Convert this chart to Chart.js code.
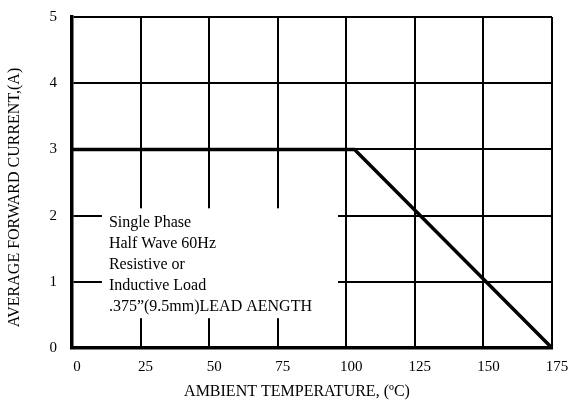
<!DOCTYPE html>
<html>
<head>
<meta charset="utf-8">
<script src="https://cdn.jsdelivr.net/npm/chart.js@4.4.0/dist/chart.umd.min.js"></script>
<style>
  html, body { margin:0; padding:0; background:#fff; }
  #wrap { width:573px; height:412px; }
</style>
</head>
<body>
<div id="wrap"><canvas id="derating"></canvas></div>
<script>
// curve points
var temps = [0, 103, 175];
var amps = [3, 3, 0];
var xTicks = [0, 25, 50, 75, 100, 125, 150, 175];
var yTicks = [0, 1, 2, 3, 4, 5];
var xTitle = 'AMBIENT TEMPERATURE, (\u00baC)';
var yTitle = 'AVERAGE FORWARD CURRENT,(A)';
var noteLines = ['Single Phase', 'Half Wave 60Hz', 'Resistive or', 'Inductive Load', '.375\u201d(9.5mm)LEAD AENGTH'];
// note box corners in data units
var noteBox = { x1: 10.9, x2: 97, y1: 2.11, y2: 0.45 };

var serif = 'Liberation Serif';

// white note box + axis titles
var notePlugin = {
    id: 'note',
    afterDatasetsDraw: function(chart) {
        var ctx = chart.ctx, xs = chart.scales.x, ys = chart.scales.y, a = chart.chartArea;
        var l = xs.getPixelForValue(noteBox.x1), r = xs.getPixelForValue(noteBox.x2);
        var t = ys.getPixelForValue(noteBox.y1), b = ys.getPixelForValue(noteBox.y2);
        ctx.save();
        ctx.fillStyle = '#fff';
        ctx.fillRect(l, t, r - l, b - t);
        ctx.fillStyle = '#000';
        ctx.font = '16px "' + serif + '"';
        ctx.textBaseline = 'middle';
        noteLines.forEach(function(s, i) {
            ctx.fillText(s, l + 7, t + 14 + i * 21);
        });

        ctx.textAlign = 'center';
        ctx.fillText(xTitle, (a.left + a.right) / 2 - 15, 392);
        ctx.translate(15, (a.top + a.bottom) / 2 + 15);
        ctx.rotate(-Math.PI / 2);
        ctx.fillText(yTitle, 0, 0);
        ctx.restore();
    }
};

new Chart(document.getElementById('derating'), {
    type: 'line',
    data: {
        datasets: [{
            data: temps.map(function(t, i) { return { x: t, y: amps[i] }; }),
            borderColor: '#000',
            borderWidth: 3.5,
            pointRadius: 0,
            tension: 0
        }]
    },
    options: {
        responsive: true,
        maintainAspectRatio: false,
        animation: false,
        layout: { padding: { left: 0, right: 21, top: 17, bottom: 0 } },
        plugins: { legend: { display: false }, tooltip: { enabled: false } },
        scales: {
            x: {
                type: 'linear',
                min: 0, max: 175,
                afterBuildTicks: function(s) { s.ticks = xTicks.map(function(v) { return { value: v }; }); },
                afterFit: function(s) { s.height = 64; s.paddingLeft = 0; s.paddingRight = 0; },
                grid: { color: '#000', lineWidth: 2, drawTicks: false },
                border: { color: '#000', width: 3.5 },
                ticks: { color: '#000', font: { family: serif, size: 15 }, padding: 10, maxRotation: 0, labelOffset: 5 }
            },
            y: {
                min: 0, max: 5,
                afterBuildTicks: function(s) { s.ticks = yTicks.map(function(v) { return { value: v }; }); },
                afterFit: function(s) { s.width = 72; s.paddingTop = 0; s.paddingBottom = 0; },
                grid: { color: '#000', lineWidth: 2, drawTicks: false },
                border: { color: '#000', width: 3.5 },
                ticks: { color: '#000', font: { family: serif, size: 15 }, padding: 15 }
            }
        }
    },
    plugins: [notePlugin]
});
</script>
</body>
</html>
